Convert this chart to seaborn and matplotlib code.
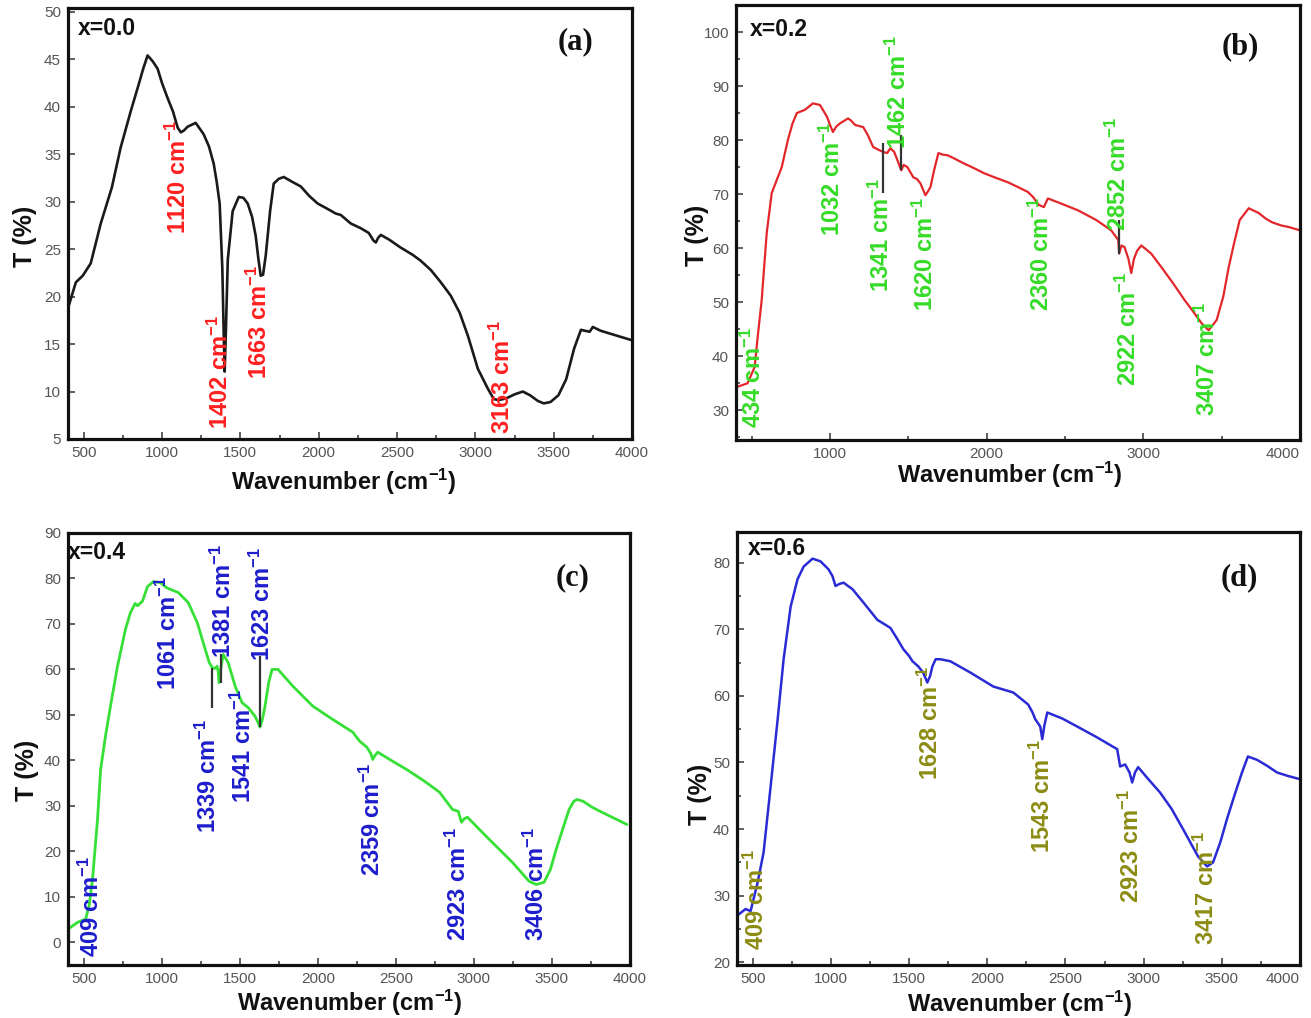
import matplotlib
matplotlib.use("Agg")
import matplotlib.pyplot as plt
import seaborn as sns
import pandas as pd
from matplotlib.ticker import MultipleLocator

# ---------------- data ----------------
# panel (a) x=0.0
wn_a = [404, 417, 450, 494, 545, 609, 680, 736, 800, 845, 880, 908, 940, 972, 1000, 1036, 1070, 1100, 1120, 1140,
        1164, 1215, 1266, 1300, 1330, 1350, 1368, 1385, 1394, 1400, 1408, 1420, 1451, 1490, 1520, 1547, 1575, 1598,
        1615, 1630, 1645, 1662, 1690, 1713, 1745, 1777, 1830, 1886, 1940, 1994, 2050, 2109, 2141, 2205, 2269, 2320,
        2350, 2365, 2380, 2397, 2450, 2520, 2600, 2650, 2716, 2780, 2843, 2900, 2952, 3016, 3080, 3118, 3150, 3200,
        3250, 3303, 3350, 3400, 3437, 3480, 3530, 3580, 3630, 3674, 3700, 3730, 3750, 3800, 3900, 4000]
t_a = [19.0, 19.7, 21.5, 22.2, 23.5, 27.7, 31.5, 35.7, 39.5, 42.0, 44.0, 45.4, 44.8, 44.0, 42.5, 40.9, 39.5, 37.8,
       37.3, 37.5, 37.9, 38.3, 37.1, 35.8, 34.0, 32.0, 29.8, 23.0, 16.0, 12.1, 16.5, 23.9, 29.0, 30.5, 30.4, 29.8,
       28.4, 26.4, 24.0, 22.2, 22.3, 24.3, 29.0, 31.9, 32.4, 32.6, 32.1, 31.6, 30.6, 29.8, 29.3, 28.75, 28.6, 27.7,
       27.2, 26.7, 25.9, 25.7, 26.2, 26.5, 26.0, 25.2, 24.4, 23.8, 22.8, 21.5, 20.1, 18.3, 15.9, 12.4, 10.3, 9.2,
       9.1, 9.3, 9.7, 10.0, 9.6, 9.0, 8.75, 8.9, 9.6, 11.3, 14.5, 16.5, 16.4, 16.3, 16.8, 16.4, 15.9, 15.4]
lab_a = ["1120", "1402", "1663", "3163"]
lab_a_x = [1107, 1375, 1622, 3175]
lab_a_top = [38.6, 18.0, 23.3, 17.5]

# panel (b) x=0.2
wn_b = [404, 474, 519, 540, 564, 596, 628, 660, 692, 731, 760, 788, 840, 891, 936, 981, 1000, 1019, 1040, 1064,
        1115, 1135, 1160, 1212, 1240, 1276, 1310, 1340, 1365, 1385, 1410, 1430, 1455, 1470, 1494, 1532, 1555, 1577,
        1609, 1625, 1641, 1665, 1692, 1720, 1750, 1800, 1853, 1920, 1981, 2060, 2135, 2200, 2263, 2295, 2333, 2365,
        2391, 2480, 2583, 2700, 2795, 2840, 2846, 2860, 2880, 2905, 2923, 2940, 2960, 2987, 3050, 3115, 3190, 3263,
        3320, 3372, 3417, 3468, 3510, 3545, 3580, 3615, 3673, 3700, 3737, 3780, 3821, 3880, 3930, 4000]
t_b = [34.3, 35.0, 38.0, 44.0, 50.4, 62.8, 70.2, 72.6, 75.0, 80.0, 83.0, 85.0, 85.6, 86.8, 86.5, 84.3, 82.8, 81.5,
       82.5, 83.1, 84.0, 83.6, 82.8, 82.4, 81.0, 78.7, 78.2, 77.8, 77.6, 78.5, 77.8, 76.3, 74.4, 75.4, 75.0, 73.1,
       72.8, 72.0, 69.8, 70.5, 71.3, 74.5, 77.6, 77.3, 77.2, 76.5, 75.7, 74.8, 73.9, 73.0, 72.2, 71.3, 70.4, 69.5,
       68.0, 67.6, 69.2, 68.2, 67.0, 65.2, 63.3, 61.5, 59.0, 60.5, 60.2, 58.0, 55.4, 58.0, 59.5, 60.5, 59.0, 56.5,
       53.5, 50.4, 48.2, 46.1, 44.8, 46.7, 51.0, 56.5, 61.0, 65.2, 67.4, 67.0, 66.5, 65.5, 64.8, 64.2, 63.9, 63.3]
lab_b = ["434", "1032", "1341", "1462", "1620", "2360", "2852", "2922", "3407"]
lab_b_x = [513, 1013, 1327, 1436, 1609, 2346, 2840, 2904, 3410]
lab_b_top = [45.4, 83.3, 73.0, 99.4, 69.4, 69.4, 84.3, 55.6, 50.0]
mark_b_x = [1340, 1455, 2846]
mark_b_lo = [70.2, 74.4, 59.0]
mark_b_hi = [79.4, 81.0, 65.2]

# panel (c) x=0.4
wn_c = [404, 417, 462, 513, 535, 557, 589, 609, 640, 672, 717, 768, 800, 830, 845, 877, 909, 947, 992, 1030,
        1056, 1107, 1170, 1228, 1279, 1305, 1324, 1340, 1355, 1362, 1368, 1378, 1394, 1426, 1471, 1515, 1554, 1598,
        1615, 1630, 1645, 1662, 1685, 1707, 1745, 1841, 1969, 2096, 2224, 2269, 2314, 2340, 2352, 2365, 2384, 2470,
        2569, 2680, 2780, 2863, 2900, 2920, 2940, 2959, 3030, 3099, 3246, 3354, 3399, 3450, 3490, 3527, 3570, 3610,
        3640, 3661, 3700, 3757, 3820, 3885, 3980]
t_c = [3.0, 3.3, 4.4, 5.1, 8.0, 13.8, 27.0, 38.0, 45.3, 51.9, 60.7, 68.8, 72.5, 74.5, 74.0, 75.0, 78.2, 79.3, 79.1,
       78.0, 77.6, 76.9, 74.7, 70.3, 64.4, 61.5, 60.4, 60.2, 60.7, 59.5, 57.1, 60.0, 63.3, 61.5, 56.3, 52.7, 51.6,
       49.7, 48.5, 47.3, 49.0, 51.9, 57.0, 60.0, 60.0, 56.3, 51.9, 49.0, 46.2, 44.2, 42.9, 41.5, 40.2, 41.0, 41.8,
       40.0, 38.0, 35.5, 33.0, 29.2, 28.8, 26.4, 27.2, 27.5, 25.0, 22.6, 17.6, 13.4, 12.7, 13.2, 16.0, 20.4, 25.0,
       29.2, 31.0, 31.4, 31.0, 29.7, 28.6, 27.5, 25.9]
lab_c = ["409", "1061", "1339", "1381", "1541", "1623", "2359", "2923", "3406"]
lab_c_x = [550, 1043, 1298, 1394, 1522, 1643, 2352, 2901, 3399]
lab_c_top = [18.9, 80.4, 49.0, 87.5, 55.6, 86.8, 39.6, 25.3, 25.3]
mark_c_x = [1324, 1381, 1630]
mark_c_lo = [51.6, 57.1, 47.3]
mark_c_hi = [60.4, 63.3, 62.9]

# panel (d) x=0.6
wn_d = [404, 411, 455, 487, 532, 570, 615, 660, 698, 743, 787, 826, 883, 934, 985, 1010, 1030, 1055, 1081, 1139,
        1209, 1298, 1340, 1381, 1426, 1464, 1500, 1522, 1560, 1590, 1617, 1635, 1649, 1670, 1700, 1764, 1892, 2039,
        2167, 2262, 2290, 2307, 2339, 2352, 2365, 2384, 2480, 2575, 2700, 2831, 2850, 2882, 2910, 2927, 2945, 2965,
        3030, 3105, 3180, 3252, 3348, 3406, 3444, 3490, 3533, 3580, 3629, 3667, 3725, 3790, 3853, 3920, 3999]
t_d = [27.0, 27.2, 28.0, 27.7, 32.0, 36.5, 46.4, 56.5, 65.5, 73.4, 77.5, 79.4, 80.6, 80.2, 79.0, 78.0, 76.5, 76.8,
       77.0, 76.0, 74.0, 71.4, 70.8, 70.2, 68.5, 67.0, 66.0, 65.2, 64.4, 63.5, 62.0, 63.0, 64.4, 65.5, 65.5, 65.2,
       63.5, 61.4, 60.5, 58.7, 57.5, 56.5, 55.4, 53.5, 55.5, 57.5, 56.6, 55.4, 53.8, 52.0, 49.4, 49.7, 48.5, 47.0,
       48.5, 49.3, 47.5, 45.5, 43.0, 40.0, 35.9, 34.4, 35.0, 38.0, 41.5, 45.0, 48.5, 50.9, 50.4, 49.5, 48.5, 48.0, 47.5]
lab_d = ["409", "1628", "1543", "2923", "3417"]
lab_d_x = [525, 1637, 2352, 2920, 3399]
lab_d_top = [37.0, 64.4, 53.5, 46.0, 39.7]

titles = ["x=0.0", "x=0.2", "x=0.4", "x=0.6"]
letters = ["(a)", "(b)", "(c)", "(d)"]

# ---------------- style ----------------
sns.set_style("ticks")
plt.rcParams['font.family'] = ['Liberation Sans', 'DejaVu Sans']
plt.rcParams['mathtext.fontset'] = 'custom'
plt.rcParams['mathtext.rm'] = 'Liberation Sans:bold'
plt.rcParams['mathtext.bf'] = 'Liberation Sans:bold'
plt.rcParams['mathtext.it'] = 'Liberation Sans:bold'
plt.rcParams['mathtext.sf'] = 'Liberation Sans:bold'

W, H = 1311, 1018
fig = plt.figure(figsize=(W / 100, H / 100), dpi=100)
fig.patch.set_facecolor('white')


def add_ax(l, t, r, b):
    return fig.add_axes([l / W, 1 - b / H, (r - l) / W, (b - t) / H])


panels = [
    dict(box=(68, 8, 632, 439), wn=wn_a, t=t_a, color='#1a1a1a', lw=1.9, ylim=(5, 50.4),
         xmaj=500, xmin=250, ymaj=5, ymin=None, labs=(lab_a, lab_a_x, lab_a_top), lcol='#ff1f1f', marks=None,
         xl=(0.488, -0.1), yl=(-0.077, 0.47), title=(0.018, 0.953), letter=(0.899, 0.921), edge=False),
    dict(box=(736, 5, 1300, 440), wn=wn_b, t=t_b, color='#e3262b', lw=1.6, ylim=(24.5, 105),
         xmaj=1000, xmin=500, ymaj=10, ymin=5, labs=(lab_b, lab_b_x, lab_b_top), lcol='#35db27',
         marks=(mark_b_x, mark_b_lo, mark_b_hi),
         xl=(0.486, -0.08), yl=(-0.069, 0.471), title=(0.025, 0.943), letter=(0.895, 0.903), edge=True),
    dict(box=(68, 533, 630, 965), wn=wn_c, t=t_c, color='#36e036', lw=2.0, ylim=(-5, 90),
         xmaj=500, xmin=250, ymaj=10, ymin=None, labs=(lab_c, lab_c_x, lab_c_top), lcol='#1d1dcc',
         marks=(mark_c_x, mark_c_lo, mark_c_hi),
         xl=(0.502, -0.088), yl=(-0.073, 0.451), title=(0.0, 0.954), letter=(0.897, 0.896), edge=False),
    dict(box=(737, 532, 1300, 965), wn=wn_d, t=t_d, color='#2b2bd6', lw=1.8, ylim=(19.6, 84.6),
         xmaj=500, xmin=250, ymaj=10, ymin=5, labs=(lab_d, lab_d_x, lab_d_top), lcol='#8c8c14', marks=None,
         xl=(0.503, -0.09), yl=(-0.066, 0.393), title=(0.02, 0.963), letter=(0.893, 0.894), edge=True),
]

for i, p in enumerate(panels):
    ax = add_ax(*p['box'])
    df = pd.DataFrame({'Wavenumber': p['wn'], 'T': p['t']})
    sns.lineplot(data=df, x='Wavenumber', y='T', ax=ax, color=p['color'], lw=p['lw'],
                 sort=False, estimator=None)
    ax.set_xlim(400, 4000)
    ax.set_ylim(*p['ylim'])
    ax.xaxis.set_major_locator(MultipleLocator(p['xmaj']))
    ax.xaxis.set_minor_locator(MultipleLocator(p['xmin']))
    ax.yaxis.set_major_locator(MultipleLocator(p['ymaj']))
    if p['ymin']:
        ax.yaxis.set_minor_locator(MultipleLocator(p['ymin']))
    ax.tick_params(which='both', direction='in', top=False, right=False, color='#333333', width=1.1)
    ax.tick_params(which='major', length=5, labelsize=11, labelcolor='#555555', pad=5)
    ax.tick_params(which='minor', length=3)
    for s in ax.spines.values():
        s.set_linewidth(2.3)
        s.set_color('#111111')

    if p['edge']:
        fig.canvas.draw()
        for tl in ax.get_xticklabels():
            if tl.get_text() in ('4000', '4,000'):
                tl.set_horizontalalignment('right')

    ax.set_xlabel('Wavenumber (cm$^{-1}$)', fontsize=17, fontweight='bold', color='#111111')
    ax.xaxis.set_label_coords(*p['xl'])
    ax.xaxis.label.set_va('center')
    ax.set_ylabel('T (%)', fontsize=18, fontweight='bold', color='#111111')
    ax.yaxis.set_label_coords(*p['yl'])
    ax.yaxis.label.set_va('center')

    ax.text(p['title'][0], p['title'][1], titles[i], transform=ax.transAxes, fontsize=16.5,
            fontweight='bold', ha='left', va='center', color='#111111')
    ax.text(p['letter'][0], p['letter'][1], letters[i], transform=ax.transAxes, fontsize=22,
            fontweight='bold', family='Liberation Serif', ha='center', va='center', color='#111111')

    if p['marks'] is not None:
        mx, mlo, mhi = p['marks']
        ax.vlines(mx, mlo, mhi, color='#333333', lw=1.6, zorder=4)

    names, xs, tops = p['labs']
    for name, x, top in zip(names, xs, tops):
        ax.text(x, top, name + ' cm$^{-1}$', rotation=90, ha='center', va='top', fontsize=17,
                fontweight='bold', color=p['lcol'], clip_on=False, zorder=5)

fig.savefig('out.png', dpi=100, facecolor='white')
